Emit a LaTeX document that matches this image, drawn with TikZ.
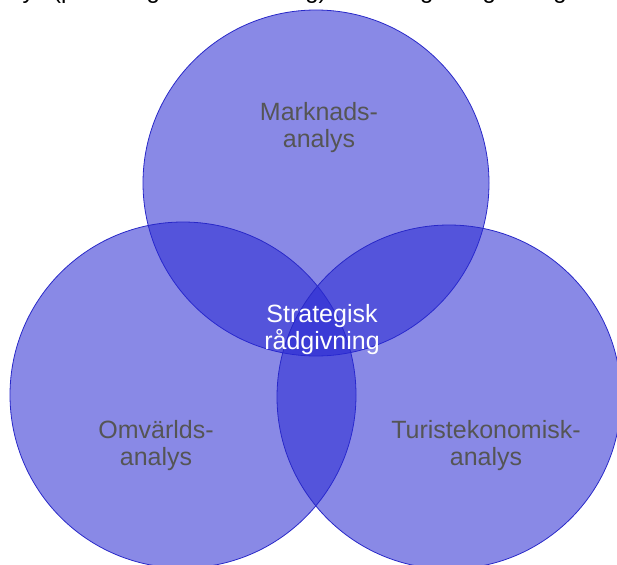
\documentclass[tikz,border=0pt]{standalone}
\usepackage{fontspec}
\setmainfont{Liberation Sans}
\definecolor{circfill}{RGB}{40,40,210}
\definecolor{circline}{RGB}{40,40,200}
\definecolor{labelgray}{RGB}{85,85,85}
\tikzset{
  venn/.style={draw=circline, line width=0.8pt, fill=circfill, fill opacity=0.55},
  outerlabel/.style={text=labelgray, font=\fontsize{25}{27}\selectfont, align=center, inner sep=0pt},
  centerlabel/.style={text=white, font=\fontsize{25}{27}\selectfont, align=center, inner sep=0pt},
}
\begin{document}
\begin{tikzpicture}[x=1pt,y=-1pt]
\useasboundingbox (0,0) rectangle (617,564);
% cut-off caption line at the top edge
\node[anchor=base west, inner sep=0pt, font=\fontsize{24}{26}\selectfont] (caption) at (-23,-1) {analys (planering och utveckling) som rådgivningsbolaget erbjuder i regionen};
% circles
\path[venn] (316,183) circle[radius=173];
\path[venn] (183,395) circle[radius=173];
\path[venn] (449,397) circle[radius=172];
% labels
\node[outerlabel] (mark) at (319,128) {Marknads-\\analys};
\node[outerlabel] (omv) at (156,446) {Omvärlds-\\analys};
\node[outerlabel] (tur) at (486,446) {Turistekonomisk-\\analys};
\node[centerlabel] (strat) at (322,330) {Strategisk\\rådgivning};
\end{tikzpicture}
\end{document}
